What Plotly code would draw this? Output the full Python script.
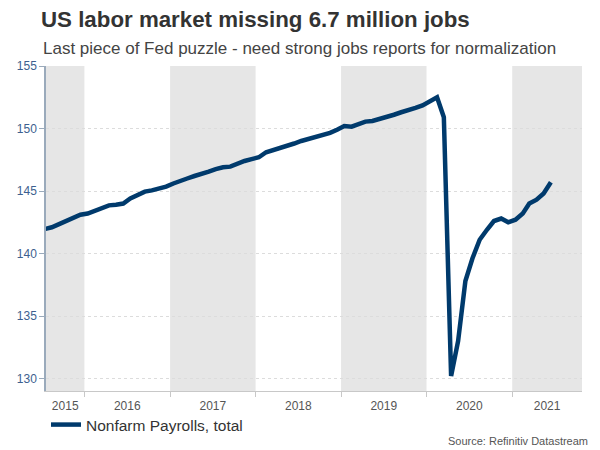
import pandas as pd
import plotly.graph_objects as go

# Nonfarm payrolls, total (millions), monthly, Jul 2015 - Jun 2021
MONTHS = pd.date_range("2015-07-01", "2021-06-01", freq="MS") + pd.Timedelta(days=14)
PAYROLLS = [
    # 2015 Jul-Dec
    141.95, 142.1, 142.35, 142.6, 142.85, 143.1,
    # 2016
    143.2, 143.4, 143.6, 143.85, 143.9, 144.0, 144.4, 144.7, 144.95, 145.05, 145.2, 145.35,
    # 2017
    145.6, 145.85, 146.0, 146.2, 146.35, 146.55, 146.75, 146.9, 146.95, 147.2, 147.4, 147.55,
    # 2018
    147.7, 148.1, 148.25, 148.4, 148.6, 148.8, 149.0, 149.15, 149.3, 149.5, 149.65, 149.9,
    # 2019
    150.2, 150.15, 150.35, 150.55, 150.6, 150.75, 150.9, 151.1, 151.3, 151.45, 151.65, 151.85,
    # 2020
    152.2, 152.5, 150.9, 130.2, 133.0, 137.8, 139.6, 141.1, 141.9, 142.6, 142.8, 142.5,
    # 2021 Jan-Jun
    142.7, 143.2, 144.0, 144.3, 144.8, 145.7,
]
YEARS = [2015, 2016, 2017, 2018, 2019, 2020, 2021]
SHADED_YEARS = [2015, 2017, 2019, 2021]
X_RANGE = ["2015-07-21", "2021-10-26"]
Y_TICKS = [130, 135, 140, 145, 150, 155]

NAVY = "#003a6c"
FONT = "Liberation Sans, Arial, sans-serif"

# the page body adds an 8px offset, so the figure is drawn 8px smaller
W, H = 592, 442

start, end = pd.Timestamp(X_RANGE[0]), pd.Timestamp(X_RANGE[1])
label_pos = []
for y in YEARS:
    a = max(pd.Timestamp(f"{y}-01-01"), start)
    b = min(pd.Timestamp(f"{y + 1}-01-01"), end)
    label_pos.append(a + (b - a) / 2)
boundaries = [pd.Timestamp(f"{y}-01-01") for y in YEARS[1:]]

fig = go.Figure()
fig.add_trace(go.Scatter(
    x=MONTHS, y=PAYROLLS, mode="lines", name="Nonfarm Payrolls, total",
    line=dict(color=NAVY, width=4.5),
))

for y in SHADED_YEARS:
    fig.add_shape(
        type="rect", xref="x", yref="paper",
        x0=f"{y}-01-01", x1=f"{y + 1}-01-01", y0=0, y1=1,
        fillcolor="#e6e6e6", line_width=0, layer="below",
    )

fig.update_layout(
    width=W, height=H,
    margin=dict(l=38, r=18, t=58, b=59, autoexpand=False),
    paper_bgcolor="white", plot_bgcolor="white",
    font=dict(family=FONT, color="#444"),
    title=dict(
        text="<b>US labor market missing 6.7 million jobs</b>",
        x=33 / W, xanchor="left", y=1 - 11 / H, yanchor="middle",
        font=dict(size=22.3, color="#333", family=FONT),
    ),
    showlegend=True,
    legend=dict(
        x=0, xanchor="left", y=-34 / 325, yanchor="middle",
        font=dict(size=15.5, color="#333"), bgcolor="rgba(0,0,0,0)",
    ),
    annotations=[
        dict(
            text="Last piece of Fed puzzle - need strong jobs reports for normalization",
            xref="paper", yref="paper", x=-5 / 536, y=(391 - 48) / 325,
            xanchor="left", yanchor="middle", showarrow=False,
            font=dict(size=17, color="#444"),
        ),
        dict(
            text="Source: Refinitiv Datastream",
            xref="paper", yref="paper", x=(590 - 46) / 536, y=-(441 - 391) / 325,
            xanchor="right", yanchor="middle", showarrow=False,
            font=dict(size=11, color="#555"),
        ),
    ],
)

fig.update_xaxes(
    range=X_RANGE, type="date",
    tickvals=label_pos, ticktext=[str(y) for y in YEARS],
    ticks="", showgrid=False, ticklabelstandoff=4,
    showline=True, linecolor="#c8c8c8", linewidth=1,
    tickfont=dict(size=12, color="#555"),
    minor=dict(tickvals=boundaries, ticks="outside", ticklen=5, tickcolor="#c8c8c8", showgrid=False),
    zeroline=False,
)
fig.update_yaxes(
    range=[129.0, 155], tickvals=Y_TICKS,
    ticks="outside", ticklen=5, tickcolor="#9aaabb",
    showline=True, linecolor="#9aaabb", linewidth=1.5,
    showgrid=True, gridcolor="#dcdcdc", griddash="dot", gridwidth=1,
    tickfont=dict(size=12, color="#3d5f8f"),
    zeroline=False,
)

fig.write_html("out.html")
